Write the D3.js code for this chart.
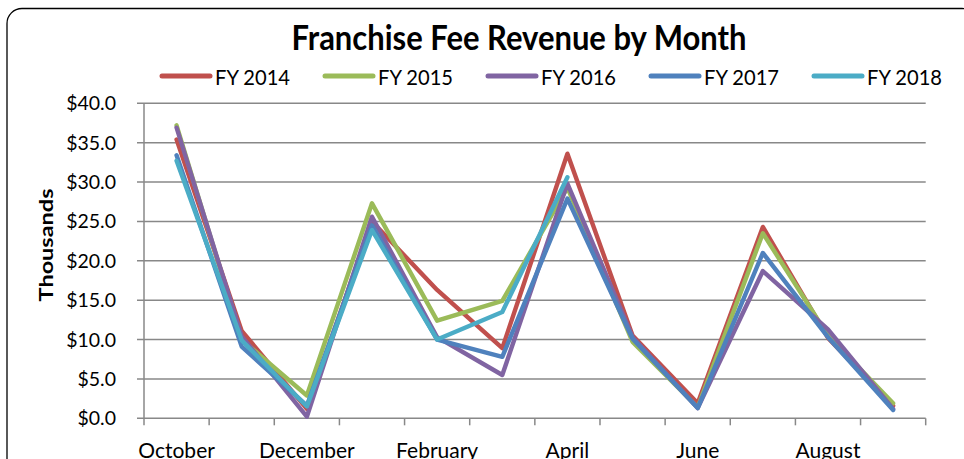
<!DOCTYPE html>
<html><head><meta charset="utf-8">
<script src="https://cdn.jsdelivr.net/npm/d3@7"></script>
<style>body{margin:0;background:#fff}svg{display:block;font-family:Lato,"Open Sans",sans-serif}</style>
</head><body><svg id="c" width="964" height="459"></svg>
<script>
const months = ["October","November","December","January","February","March","April","May","June","July","August","September"];
const shownLabels = ["October","December","February","April","June","August"];
const seriesNames = ["FY 2014","FY 2015","FY 2016","FY 2017","FY 2018"];
const colors = ["#C0504D","#9BBB59","#8064A2","#4F81BD","#4BACC6"];
const fy2014 = [35.4,11.1,1.2,25.0,16.3,8.9,33.6,10.5,1.9,24.3,10.2,1.6];
const fy2015 = [37.2,10.0,2.9,27.3,12.4,14.9,29.3,9.7,1.4,23.5,10.5,1.9];
const fy2016 = [36.9,10.4,0.2,25.6,10.3,5.5,29.8,10.3,1.3,18.7,11.3,1.2];
const fy2017 = [33.4,9.1,1.6,24.5,10.0,7.8,27.9,10.1,1.3,21.0,10.3,1.05];
const fy2018 = [32.7,9.9,1.5,23.9,10.0,13.5,30.6];
const yTicks = [0,5,10,15,20,25,30,35,40];
const allSeries = [fy2014,fy2015,fy2016,fy2017,fy2018];

const svg = d3.select("#c");
// chart border
svg.append("rect").attr("x",7).attr("y",8.5).attr("width",970).attr("height",480)
  .attr("rx",15).attr("fill","#fff").attr("stroke","#000").attr("stroke-width",1.3);

const L=144, R=925.7, T=103.3, B=418.3;
const x = d3.scaleBand().domain(months).range([L,R]).padding(0);
const y = d3.scaleLinear().domain([0,40]).range([B,T]);
const grid = "#888";

// gridlines
svg.append("g").selectAll("line").data(yTicks).join("line")
  .attr("x1",L-7).attr("x2",R).attr("y1",d=>y(d)).attr("y2",d=>y(d))
  .attr("stroke",grid).attr("stroke-width",1.5);
// left axis
svg.append("line").attr("x1",L).attr("x2",L).attr("y1",T).attr("y2",B+0.8).attr("stroke",grid).attr("stroke-width",1.5);
// x ticks
const bounds = months.map(m=>x(m)).concat([R]);
svg.append("g").selectAll("line").data(bounds).join("line")
  .attr("x1",d=>d).attr("x2",d=>d).attr("y1",B).attr("y2",B+7)
  .attr("stroke",grid).attr("stroke-width",1.5);
// y labels
svg.append("g").selectAll("text").data(yTicks).join("text")
  .attr("x",116).attr("y",d=>y(d)+7).attr("text-anchor","end")
  .attr("font-size",19.5).attr("fill","#000").text(d=>"$"+d.toFixed(1));
// x labels
svg.append("g").selectAll("text").data(shownLabels).join("text")
  .attr("x",d=>x(d)+x.bandwidth()/2).attr("y",457.5).attr("text-anchor","middle")
  .attr("font-size",21).attr("fill","#000").text(d=>d);
// y title
svg.append("text").attr("transform",`translate(53,245) rotate(-90)`)
  .attr("text-anchor","middle").attr("font-size",18).attr("font-weight","bold")
  .attr("textLength",113).attr("lengthAdjust","spacingAndGlyphs").text("Thousands");
// title
svg.append("text").attr("x",519).attr("y",50).attr("text-anchor","middle")
  .attr("font-size",34).attr("font-weight","bold")
  .attr("textLength",455).attr("lengthAdjust","spacingAndGlyphs").text("Franchise Fee Revenue by Month");

// lines
const line = d3.line().x((d,i)=>x(months[i])+x.bandwidth()/2).y(d=>y(d));
svg.append("g").selectAll("path").data(allSeries).join("path")
  .attr("d",d=>line(d)).attr("fill","none").attr("stroke",(d,i)=>colors[i])
  .attr("stroke-width",4.4).attr("stroke-linejoin","round").attr("stroke-linecap","round");

// legend
const leg = svg.append("g").selectAll("g").data(seriesNames).join("g")
  .attr("transform",(d,i)=>`translate(${162+i*163},76)`);
leg.append("line").attr("x1",0).attr("x2",48).attr("y1",0).attr("y2",0)
  .attr("stroke",(d,i)=>colors[i]).attr("stroke-width",5).attr("stroke-linecap","round");
leg.append("text").attr("x",53).attr("y",9).attr("font-size",21.5)
  .attr("textLength",75).attr("lengthAdjust","spacingAndGlyphs").text(d=>d);
</script></body></html>
